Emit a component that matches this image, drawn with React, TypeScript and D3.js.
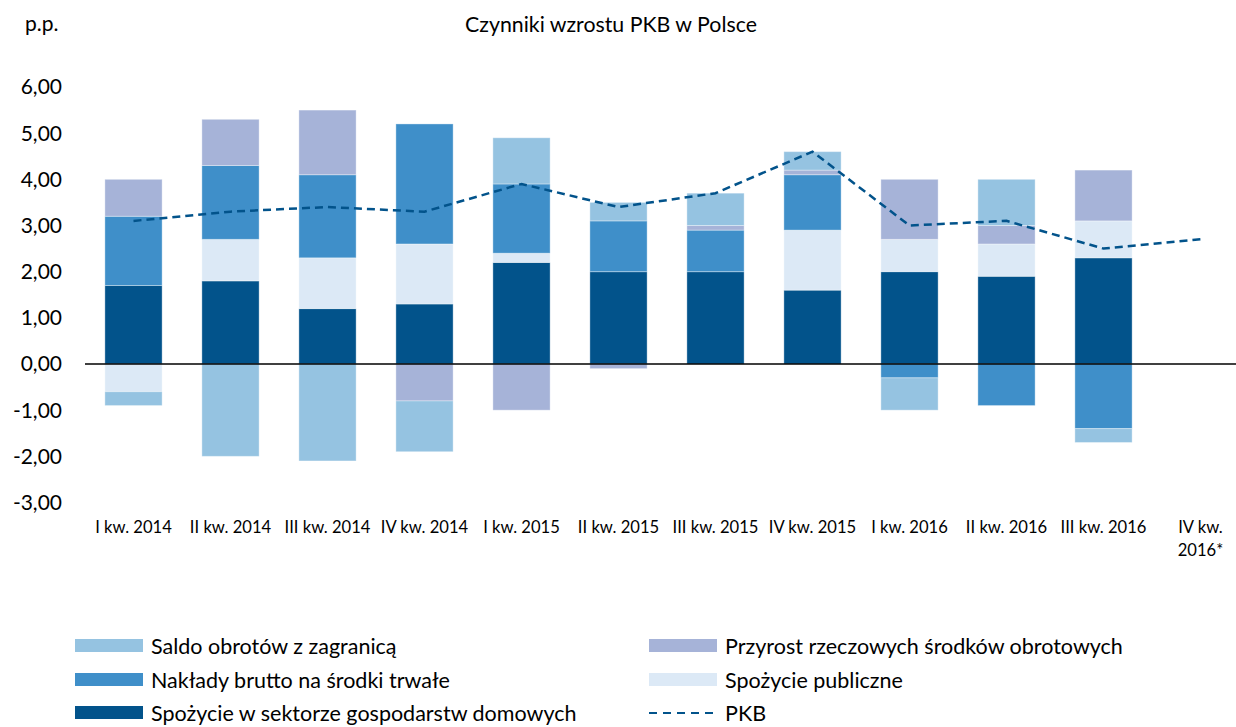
import React from 'react'
import * as d3 from 'd3'

const categories = [
  'I kw. 2014',
  'II kw. 2014',
  'III kw. 2014',
  'IV kw. 2014',
  'I kw. 2015',
  'II kw. 2015',
  'III kw. 2015',
  'IV kw. 2015',
  'I kw. 2016',
  'II kw. 2016',
  'III kw. 2016',
  'IV kw.\n2016*',
]

// contributions in p.p.
const household = [1.7, 1.8, 1.2, 1.3, 2.2, 2.0, 2.0, 1.6, 2.0, 1.9, 2.3, 0]
const publicCons = [-0.6, 0.9, 1.1, 1.3, 0.2, 0, 0, 1.3, 0.7, 0.7, 0.8, 0]
const investment = [1.5, 1.6, 1.8, 2.6, 1.5, 1.1, 0.9, 1.2, -0.3, -0.9, -1.4, 0]
const inventories = [0.8, 1.0, 1.4, -0.8, -1.0, -0.1, 0.1, 0.1, 1.3, 0.4, 1.1, 0]
const netExports = [-0.3, -2.0, -2.1, -1.1, 1.0, 0.4, 0.7, 0.4, -0.7, 1.0, -0.3, 0]
const pkb = [3.1, 3.3, 3.4, 3.3, 3.9, 3.4, 3.7, 4.6, 3.0, 3.1, 2.5, 2.7]

const yTicks = [-3, -2, -1, 0, 1, 2, 3, 4, 5, 6]

const series = [
  { key: 'household', label: 'Spożycie w sektorze gospodarstw domowych', values: household, color: '#02538B' },
  { key: 'publicCons', label: 'Spożycie publiczne', values: publicCons, color: '#DCE9F6' },
  { key: 'investment', label: 'Nakłady brutto na środki trwałe', values: investment, color: '#3F8FC9' },
  { key: 'inventories', label: 'Przyrost rzeczowych środków obrotowych', values: inventories, color: '#A6B3D8' },
  { key: 'netExports', label: 'Saldo obrotów z zagranicą', values: netExports, color: '#95C3E1' },
]

const FONT = 'Lato, "Open Sans", sans-serif'
const W = 1236
const H = 727

export default function App() {
  const x = d3.scaleBand().domain(categories).range([85, 1249]).paddingInner(0.41).paddingOuter(0.205)
  const y = d3.scaleLinear().domain([-3, 6]).range([502.5, 87])

  const rows = categories.map((c, i) => {
    const r: any = { cat: c }
    series.forEach((s) => (r[s.key] = s.values[i]))
    return r
  })
  const stacked = d3
    .stack()
    .keys(series.map((s) => s.key))
    .offset(d3.stackOffsetDiverging)(rows)

  const line = d3
    .line<number>()
    .x((d, i) => x(categories[i])! + x.bandwidth() / 2)
    .y((d) => y(d))

  const fmt = (v: number) => d3.format('.2f')(v).replace('.', ',').replace('−', '-')

  const legendItems = [
    { s: series[4], lx: 75, ly: 646 },
    { s: series[2], lx: 75, ly: 680 },
    { s: series[0], lx: 75, ly: 713 },
    { s: series[3], lx: 649, ly: 646 },
    { s: series[1], lx: 649, ly: 680 },
  ]

  return (
    <svg width={W} height={H} style={{ position: 'absolute', left: 0, top: 0, display: 'block' }} fontFamily={FONT}>
      <rect width={W} height={H} fill='#fff' />
      <text x={25} y={31} fontSize={21} fill='#000'>
        p.p.
      </text>
      <text x={611} y={32} fontSize={21.3} textAnchor='middle' fill='#000'>
        Czynniki wzrostu PKB w Polsce
      </text>

      {yTicks.map((t) => (
        <text key={t} x={62} y={y(t)} dy='0.35em' textAnchor='end' fontSize={21} fill='#000'>
          {fmt(t)}
        </text>
      ))}

      {stacked.map((layer, li) => (
        <g key={layer.key} fill={series[li].color}>
          {layer.map((d, i) =>
            d[1] - d[0] === 0 ? null : (
              <rect
                key={i}
                x={x(categories[i])}
                width={x.bandwidth()}
                y={y(Math.max(d[0], d[1]))}
                height={Math.abs(y(d[0]) - y(d[1]))}
                stroke='#fff'
                strokeOpacity={0.35}
                strokeWidth={1}
              />
            )
          )}
        </g>
      ))}

      <line x1={85} x2={W} y1={y(0)} y2={y(0)} stroke='#000' strokeWidth={1.3} />

      <path d={line(pkb)!} fill='none' stroke='#02538B' strokeWidth={2.5} strokeDasharray='8,5' />

      {categories.map((c) => (
        <text key={c} x={x(c)! + x.bandwidth() / 2} y={532.5} textAnchor='middle' fontSize={16.6} fill='#000'>
          {c.split('\n').map((ln, k) => (
            <tspan key={k} x={x(c)! + x.bandwidth() / 2} dy={k === 0 ? 0 : 23.3}>
              {ln}
            </tspan>
          ))}
        </text>
      ))}

      {legendItems.map(({ s, lx, ly }) => (
        <g key={s.key}>
          <rect x={lx} y={ly - 7} width={68} height={13} fill={s.color} />
          <text x={lx + 76} y={ly} dy='0.35em' fontSize={21.5} fill='#000'>
            {s.label}
          </text>
        </g>
      ))}
      <g>
        <line x1={649} x2={717} y1={713} y2={713} stroke='#02538B' strokeWidth={2} strokeDasharray='8,6' />
        <text x={725} y={713} dy='0.35em' fontSize={21.5} fill='#000'>
          PKB
        </text>
      </g>
    </svg>
  )
}
